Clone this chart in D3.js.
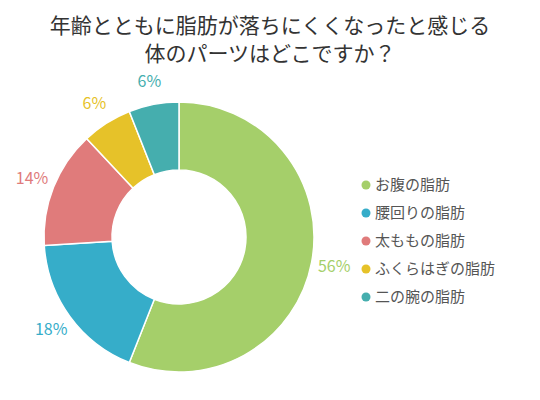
<!DOCTYPE html>
<html><head><meta charset="utf-8">
<script src="https://cdn.jsdelivr.net/npm/d3@7"></script>
<style>body{margin:0;background:#fff}</style></head>
<body><svg id="c" width="540" height="400"></svg>
<script>
const categories=["お腹の脂肪","腰回りの脂肪","太ももの脂肪","ふくらはぎの脂肪","二の腕の脂肪"];
const values=[56,18,14,6,6];
const colors=["#a5cf6a","#36adc9","#e07b7b","#e6c229","#45aeae"];
const titleLines=["年齢とともに脂肪が落ちにくくなったと感じる","体のパーツはどこですか？"];
const svg=d3.select("#c");
const font="'Noto Sans CJK JP',sans-serif";
svg.selectAll("text.t").data(titleLines).join("text").attr("x",270).attr("y",(d,i)=>33+i*28)
 .attr("text-anchor","middle").attr("font-family",font).attr("font-size",21).attr("fill","#333").text(d=>d);
const cx=179,cy=237,R=135,r=67;
const pie=d3.pie().sort(null)(values);
const arc=d3.arc().innerRadius(r).outerRadius(R);
const g=svg.append("g").attr("transform",`translate(${cx},${cy})`);
g.selectAll("path").data(pie).join("path").attr("d",arc).attr("fill",(d,i)=>colors[i]).attr("stroke","#fff").attr("stroke-width",1.5);
const la=d3.arc().innerRadius(158).outerRadius(158);
g.selectAll("text").data(pie).join("text").attr("transform",d=>`translate(${la.centroid(d)})`)
 .attr("text-anchor","middle").attr("dy","0.35em").attr("font-family",font).attr("font-size",16)
 .attr("fill",(d,i)=>colors[i]).text(d=>d.data+"%");
const lg=svg.append("g").selectAll("g").data(categories).join("g").attr("transform",(d,i)=>`translate(366,${185+i*28})`);
lg.append("circle").attr("r",4.5).attr("fill",(d,i)=>colors[i]);
lg.append("text").attr("x",9).attr("dy","0.35em").attr("font-family",font).attr("font-size",15).attr("fill","#555").text(d=>d);
</script></body></html>
